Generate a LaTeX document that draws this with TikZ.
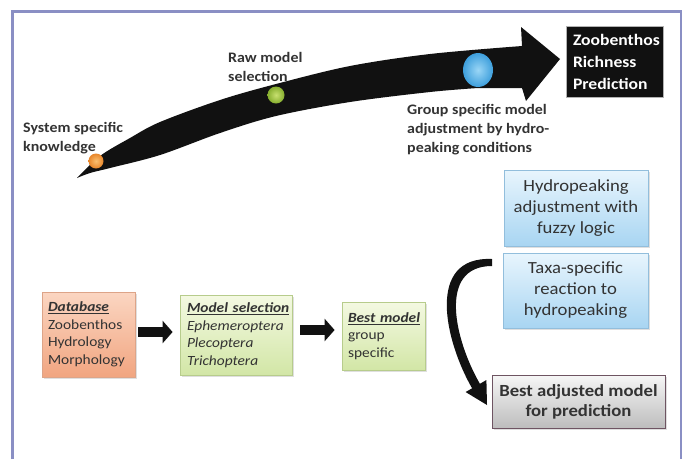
\documentclass[tikz,border=0pt]{standalone}
\usepackage{fontspec}
\setmainfont{Carlito}[FakeStretch=1.1]
\usetikzlibrary{arrows.meta,shadows}
\definecolor{framecol}{HTML}{8A8FC4}
\definecolor{txt}{HTML}{333333}
\definecolor{arrowblack}{HTML}{111111}
\definecolor{salmontop}{HTML}{FBD6C2}
\definecolor{salmonbot}{HTML}{F1A580}
\definecolor{salmonedge}{HTML}{DDA488}
\definecolor{greentop}{HTML}{F4F9E2}
\definecolor{greenbot}{HTML}{D2E6A6}
\definecolor{greenedge}{HTML}{B7CC8C}
\definecolor{bluetop}{HTML}{E8F5FD}
\definecolor{bluebot}{HTML}{A8D5F2}
\definecolor{blueedge}{HTML}{92BEDC}
\definecolor{graytop}{HTML}{F6F6F6}
\definecolor{graybot}{HTML}{BDBDBD}
\definecolor{grayedge}{HTML}{6E5462}
\definecolor{dotgreenin}{HTML}{C8E070}
\definecolor{dotgreenout}{HTML}{86AE2E}
\definecolor{dotbluein}{HTML}{9AD6F6}
\definecolor{dotblueout}{HTML}{3E9FDC}
\definecolor{dotorangein}{HTML}{FBC070}
\definecolor{dotorangeout}{HTML}{E8862A}
\begin{document}
\begin{tikzpicture}[x=1pt,y=-1pt,
  lbl/.style={font=\fontsize{14.5}{19}\selectfont\bfseries, text=txt, align=left, inner sep=0pt, anchor=west},
  box/.style={draw, line width=0.8pt, inner sep=0pt,
    drop shadow={opacity=0.25,shadow xshift=1.5pt,shadow yshift=-1.5pt}},
  lowtext/.style={font=\fontsize{14}{17.5}\selectfont, text=txt, align=left},
  salmonbox/.style={box, draw=salmonedge, top color=salmontop, bottom color=salmonbot},
  greenbox/.style={box, draw=greenedge, top color=greentop, bottom color=greenbot},
  bluebox/.style={box, draw=blueedge, top color=bluetop, bottom color=bluebot,
    font=\fontsize{17}{21}\selectfont, text=txt, align=center},
  graybox/.style={box, draw=grayedge, top color=graytop, bottom color=graybot,
    font=\fontsize{17}{20}\selectfont\bfseries, text=txt, align=center},
  blockarrow/.style={draw=arrowblack, line width=10pt, -{Triangle[length=10pt,width=22pt]}},
]
\useasboundingbox (0,0) rectangle (685,459);
\fill[white] (0,0) rectangle (685,459);
% frame
\draw[framecol, line width=2.5pt] (12.5,459) |- (681,11.5) -- (681,459);

% big curved arrow
\fill[arrowblack] plot[smooth,tension=0.55] coordinates {(77,178) (100,156) (130,138) (160,122) (220,100) (276,84) (350,66) (430,54) (522,46)}
  -- (521,27) -- (560,59) -- (526,101) -- (522,88)
  -- plot[smooth,tension=0.55] coordinates {(478,88) (430,92) (350,102) (276,116) (220,133) (160,155) (110,168) (90,173) (77,178)} -- cycle;

% milestones
\shade[inner color=dotorangein, outer color=dotorangeout] (96,161) circle (7.5);
\shade[inner color=dotgreenin, outer color=dotgreenout] (276,95) circle (8.5);
\shade[inner color=dotbluein, outer color=dotblueout] (478,70) ellipse (15 and 17);

% labels
\node[lbl] (l1) at (23,138) {System specific\\knowledge};
\node[lbl] (l2) at (228,67) {Raw model\\selection};
\node[lbl] (l3) at (407,130) {Group specific model\\adjustment by hydro-\\peaking conditions};

% result box
\node[draw=black!30, line width=0.8pt, fill=arrowblack, minimum width=97pt, minimum height=71pt,
  text width=83pt, align=left, text=white, font=\fontsize{16}{22}\selectfont\bfseries, inner sep=0pt]
  (zr) at (614.5,61.5) {Zoobenthos\\Richness\\Prediction};

% lower workflow
\node[salmonbox, lowtext, minimum width=93pt, minimum height=85pt, text width=81pt] (db) at (88.5,334.5)
  {\textbf{\textit{\underline{Database}}}\\Zoobenthos\\Hydrology\\Morphology};
\node[greenbox, lowtext, minimum width=112pt, minimum height=80pt, text width=98pt] (ms) at (236,335)
  {\textbf{\textit{\underline{Model selection}}}\\\textit{Ephemeroptera}\\\textit{Plecoptera}\\\textit{Trichoptera}};
\node[greenbox, lowtext, minimum width=83pt, minimum height=68pt, text width=71pt] (bm) at (383.5,336)
  {\textbf{\textit{\underline{Best model}}}\\group\\specific};

\draw[blockarrow, shorten <=3pt, shorten >=7pt] ([yshift=2.5pt]db.east) -- ([yshift=2.5pt]db.east -| ms.west);
\draw[blockarrow, shorten <=8pt, shorten >=7pt] ([yshift=5pt]ms.east) -- ([yshift=5pt]ms.east -| bm.west);

% right column
\node[bluebox, minimum width=144pt, minimum height=76pt] (hf) at (576,208) {Hydropeaking\\adjustment with\\fuzzy logic};
\node[bluebox, minimum width=145pt, minimum height=75pt] (tx) at (575.5,290.5) {Taxa-specific\\reaction to\\hydropeaking};
\node[graybox, minimum width=173pt, minimum height=53pt] (ba) at (578.5,401.5) {Best adjusted model\\for prediction};

% curved tapered arrow
\fill[arrowblack] (492,259) .. controls (425,256) and (445.1,341.5) .. (472.1,388.3)
  -- (465.6,392) -- (487,405) -- (486.4,380) -- (479.9,383.8)
  .. controls (454.9,340.5) and (437,266) .. (492,266) -- cycle;
\end{tikzpicture}
\end{document}
